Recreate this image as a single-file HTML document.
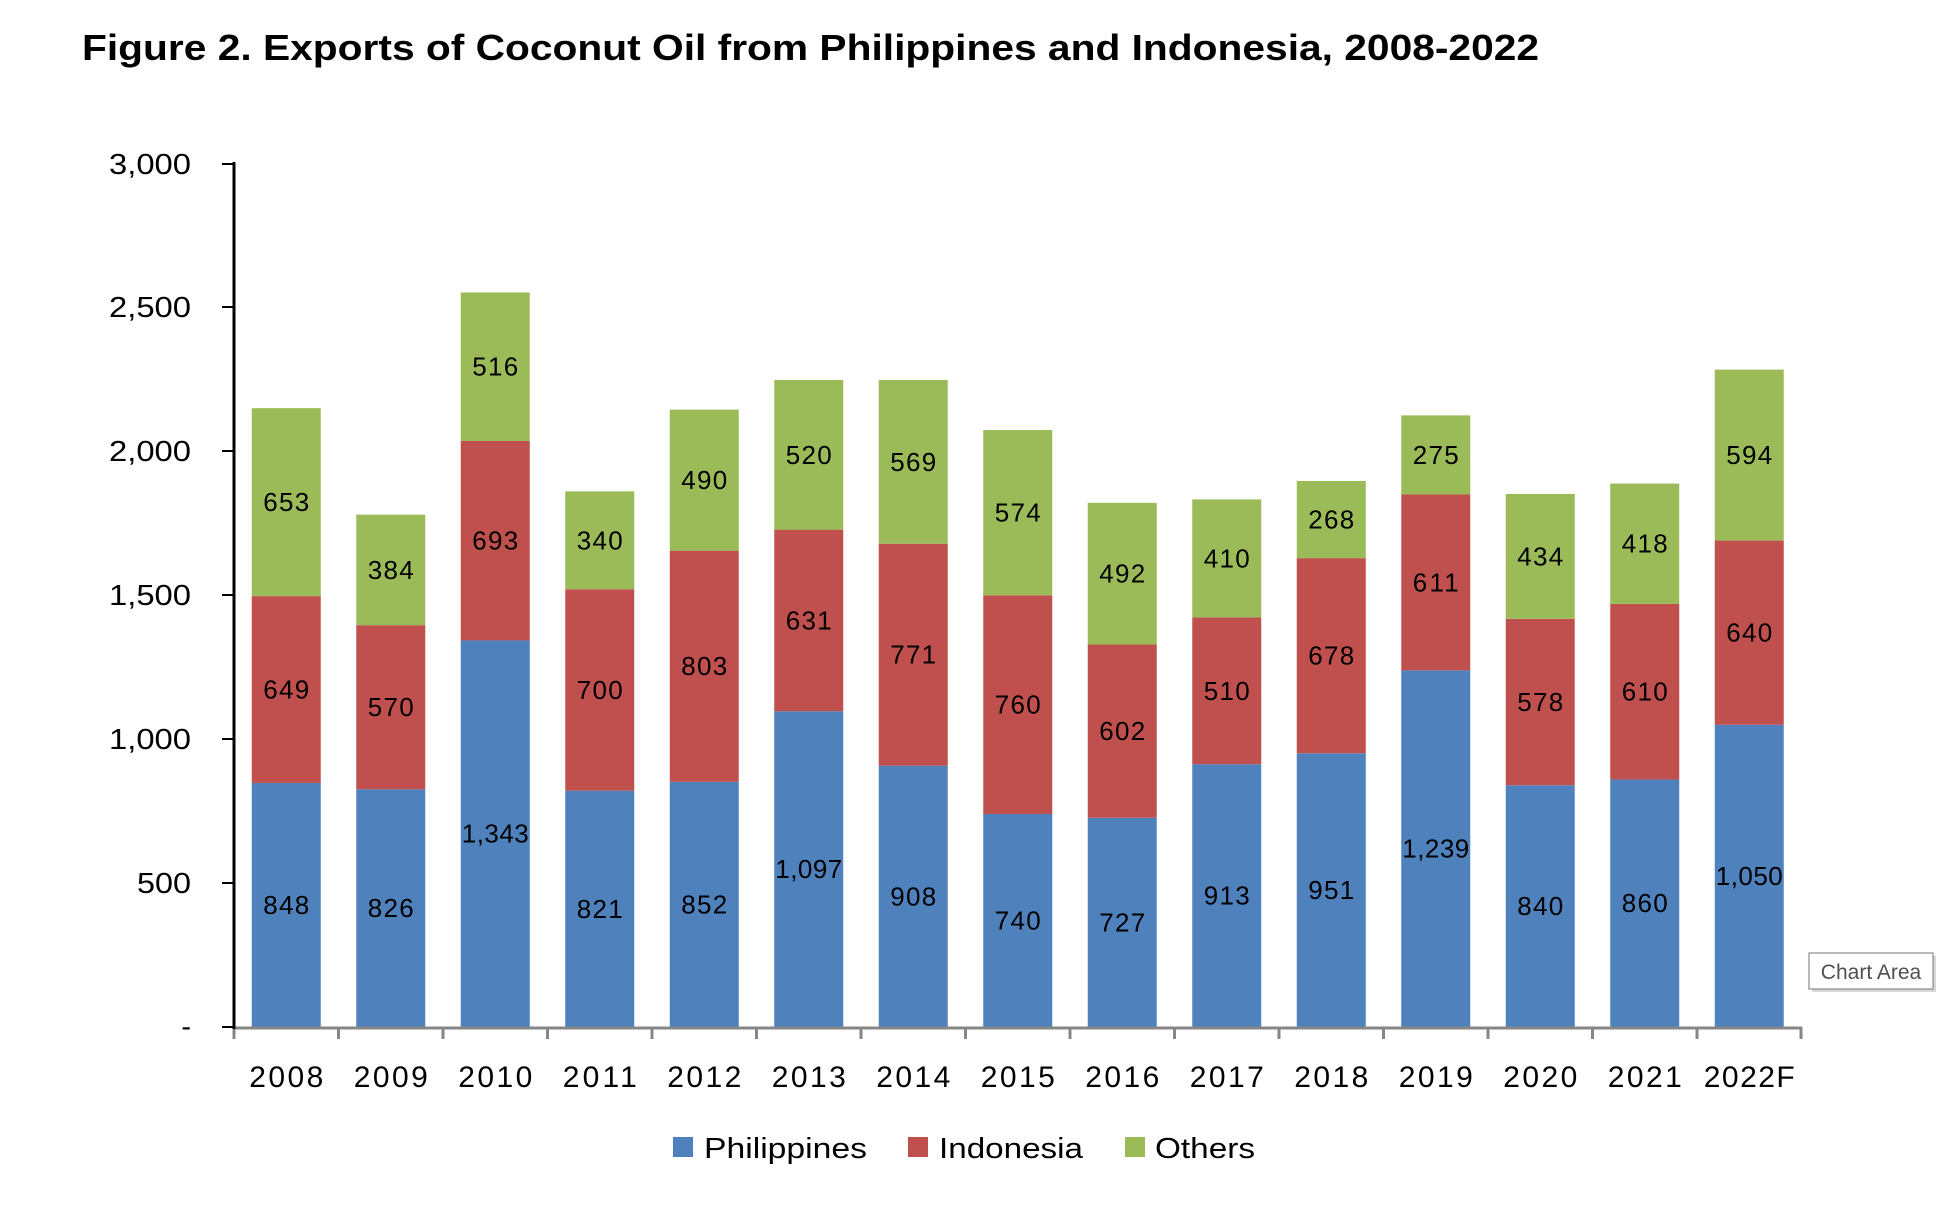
<!DOCTYPE html>
<html><head><meta charset="utf-8"><style>
html,body{margin:0;padding:0;background:#fff;}
svg{display:block;font-family:"Liberation Sans",sans-serif;}
</style></head><body>
<svg width="1955" height="1220" viewBox="0 0 1955 1220" xmlns="http://www.w3.org/2000/svg">
<text x="82" y="60" font-size="36" font-weight="bold" textLength="1457" lengthAdjust="spacingAndGlyphs">Figure 2. Exports of Coconut Oil from Philippines and Indonesia, 2008-2022</text>

<g font-size="29" text-anchor="end" fill="#000" lengthAdjust="spacingAndGlyphs">
<text x="191" y="1036">-</text>
<text x="191" y="893" textLength="54" lengthAdjust="spacingAndGlyphs">500</text>
<text x="191" y="749" textLength="82" lengthAdjust="spacingAndGlyphs">1,000</text>
<text x="191" y="605" textLength="82" lengthAdjust="spacingAndGlyphs">1,500</text>
<text x="191" y="461" textLength="82" lengthAdjust="spacingAndGlyphs">2,000</text>
<text x="191" y="317" textLength="82" lengthAdjust="spacingAndGlyphs">2,500</text>
<text x="191" y="174" textLength="82" lengthAdjust="spacingAndGlyphs">3,000</text>
</g>
<g stroke="#000" stroke-width="2">
<line x1="222" y1="1027" x2="234" y2="1027"/><line x1="222" y1="883" x2="234" y2="883"/><line x1="222" y1="739" x2="234" y2="739"/><line x1="222" y1="595" x2="234" y2="595"/><line x1="222" y1="451" x2="234" y2="451"/><line x1="222" y1="307" x2="234" y2="307"/><line x1="222" y1="164" x2="234" y2="164"/>
</g>

<g transform="translate(0,1027) scale(1,-0.28783)">
<g fill="#4F81BD">
<rect x="251.75" y="0" width="69" height="848"/><rect x="356.25" y="0" width="69" height="826"/><rect x="460.75" y="0" width="69" height="1343"/><rect x="565.25" y="0" width="69" height="821"/><rect x="669.75" y="0" width="69" height="852"/><rect x="774.25" y="0" width="69" height="1097"/><rect x="878.75" y="0" width="69" height="908"/><rect x="983.25" y="0" width="69" height="740"/><rect x="1087.75" y="0" width="69" height="727"/><rect x="1192.25" y="0" width="69" height="913"/><rect x="1296.75" y="0" width="69" height="951"/><rect x="1401.25" y="0" width="69" height="1239"/><rect x="1505.75" y="0" width="69" height="840"/><rect x="1610.25" y="0" width="69" height="860"/><rect x="1714.75" y="0" width="69" height="1050"/>
</g>
<g fill="#C0504D">
<rect x="251.75" y="848" width="69" height="649"/><rect x="356.25" y="826" width="69" height="570"/><rect x="460.75" y="1343" width="69" height="693"/><rect x="565.25" y="821" width="69" height="700"/><rect x="669.75" y="852" width="69" height="803"/><rect x="774.25" y="1097" width="69" height="631"/><rect x="878.75" y="908" width="69" height="771"/><rect x="983.25" y="740" width="69" height="760"/><rect x="1087.75" y="727" width="69" height="602"/><rect x="1192.25" y="913" width="69" height="510"/><rect x="1296.75" y="951" width="69" height="678"/><rect x="1401.25" y="1239" width="69" height="611"/><rect x="1505.75" y="840" width="69" height="578"/><rect x="1610.25" y="860" width="69" height="610"/><rect x="1714.75" y="1050" width="69" height="640"/>
</g>
<g fill="#9BBB59">
<rect x="251.75" y="1497" width="69" height="653"/><rect x="356.25" y="1396" width="69" height="384"/><rect x="460.75" y="2036" width="69" height="516"/><rect x="565.25" y="1521" width="69" height="340"/><rect x="669.75" y="1655" width="69" height="490"/><rect x="774.25" y="1728" width="69" height="520"/><rect x="878.75" y="1679" width="69" height="569"/><rect x="983.25" y="1500" width="69" height="574"/><rect x="1087.75" y="1329" width="69" height="492"/><rect x="1192.25" y="1423" width="69" height="410"/><rect x="1296.75" y="1629" width="69" height="268"/><rect x="1401.25" y="1850" width="69" height="275"/><rect x="1505.75" y="1418" width="69" height="434"/><rect x="1610.25" y="1470" width="69" height="418"/><rect x="1714.75" y="1690" width="69" height="594"/>
</g>
<g font-size="26" text-anchor="middle" fill="#000">
<g transform="translate(286.25,424) scale(1,-3.4743)"><text y="9" textLength="46">848</text></g>
<g transform="translate(286.25,1172.5) scale(1,-3.4743)"><text y="9" textLength="46">649</text></g>
<g transform="translate(286.25,1823.5) scale(1,-3.4743)"><text y="9" textLength="46">653</text></g>
<g transform="translate(390.75,413) scale(1,-3.4743)"><text y="9" textLength="46">826</text></g>
<g transform="translate(390.75,1111) scale(1,-3.4743)"><text y="9" textLength="46">570</text></g>
<g transform="translate(390.75,1588) scale(1,-3.4743)"><text y="9" textLength="46">384</text></g>
<g transform="translate(495.25,671.5) scale(1,-3.4743)"><text y="9" textLength="67">1,343</text></g>
<g transform="translate(495.25,1689.5) scale(1,-3.4743)"><text y="9" textLength="46">693</text></g>
<g transform="translate(495.25,2294) scale(1,-3.4743)"><text y="9" textLength="46">516</text></g>
<g transform="translate(599.75,410.5) scale(1,-3.4743)"><text y="9" textLength="46">821</text></g>
<g transform="translate(599.75,1171) scale(1,-3.4743)"><text y="9" textLength="46">700</text></g>
<g transform="translate(599.75,1691) scale(1,-3.4743)"><text y="9" textLength="46">340</text></g>
<g transform="translate(704.25,426) scale(1,-3.4743)"><text y="9" textLength="46">852</text></g>
<g transform="translate(704.25,1253.5) scale(1,-3.4743)"><text y="9" textLength="46">803</text></g>
<g transform="translate(704.25,1900) scale(1,-3.4743)"><text y="9" textLength="46">490</text></g>
<g transform="translate(808.75,548.5) scale(1,-3.4743)"><text y="9" textLength="67">1,097</text></g>
<g transform="translate(808.75,1412.5) scale(1,-3.4743)"><text y="9" textLength="46">631</text></g>
<g transform="translate(808.75,1988) scale(1,-3.4743)"><text y="9" textLength="46">520</text></g>
<g transform="translate(913.25,454) scale(1,-3.4743)"><text y="9" textLength="46">908</text></g>
<g transform="translate(913.25,1293.5) scale(1,-3.4743)"><text y="9" textLength="46">771</text></g>
<g transform="translate(913.25,1963.5) scale(1,-3.4743)"><text y="9" textLength="46">569</text></g>
<g transform="translate(1017.75,370) scale(1,-3.4743)"><text y="9" textLength="46">740</text></g>
<g transform="translate(1017.75,1120) scale(1,-3.4743)"><text y="9" textLength="46">760</text></g>
<g transform="translate(1017.75,1787) scale(1,-3.4743)"><text y="9" textLength="46">574</text></g>
<g transform="translate(1122.25,363.5) scale(1,-3.4743)"><text y="9" textLength="46">727</text></g>
<g transform="translate(1122.25,1028) scale(1,-3.4743)"><text y="9" textLength="46">602</text></g>
<g transform="translate(1122.25,1575) scale(1,-3.4743)"><text y="9" textLength="46">492</text></g>
<g transform="translate(1226.75,456.5) scale(1,-3.4743)"><text y="9" textLength="46">913</text></g>
<g transform="translate(1226.75,1168) scale(1,-3.4743)"><text y="9" textLength="46">510</text></g>
<g transform="translate(1226.75,1628) scale(1,-3.4743)"><text y="9" textLength="46">410</text></g>
<g transform="translate(1331.25,475.5) scale(1,-3.4743)"><text y="9" textLength="46">951</text></g>
<g transform="translate(1331.25,1290) scale(1,-3.4743)"><text y="9" textLength="46">678</text></g>
<g transform="translate(1331.25,1763) scale(1,-3.4743)"><text y="9" textLength="46">268</text></g>
<g transform="translate(1435.75,619.5) scale(1,-3.4743)"><text y="9" textLength="67">1,239</text></g>
<g transform="translate(1435.75,1544.5) scale(1,-3.4743)"><text y="9" textLength="46">611</text></g>
<g transform="translate(1435.75,1987.5) scale(1,-3.4743)"><text y="9" textLength="46">275</text></g>
<g transform="translate(1540.25,420) scale(1,-3.4743)"><text y="9" textLength="46">840</text></g>
<g transform="translate(1540.25,1129) scale(1,-3.4743)"><text y="9" textLength="46">578</text></g>
<g transform="translate(1540.25,1635) scale(1,-3.4743)"><text y="9" textLength="46">434</text></g>
<g transform="translate(1644.75,430) scale(1,-3.4743)"><text y="9" textLength="46">860</text></g>
<g transform="translate(1644.75,1165) scale(1,-3.4743)"><text y="9" textLength="46">610</text></g>
<g transform="translate(1644.75,1679) scale(1,-3.4743)"><text y="9" textLength="46">418</text></g>
<g transform="translate(1749.25,525) scale(1,-3.4743)"><text y="9" textLength="67">1,050</text></g>
<g transform="translate(1749.25,1370) scale(1,-3.4743)"><text y="9" textLength="46">640</text></g>
<g transform="translate(1749.25,1987) scale(1,-3.4743)"><text y="9" textLength="46">594</text></g>
</g>
</g>

<g stroke="#868686" stroke-width="3">
<line x1="234" y1="1028" x2="1802" y2="1028"/>
<line x1="234" y1="1027" x2="234" y2="1039"/><line x1="338.5" y1="1027" x2="338.5" y2="1039"/><line x1="443" y1="1027" x2="443" y2="1039"/><line x1="547.5" y1="1027" x2="547.5" y2="1039"/><line x1="652" y1="1027" x2="652" y2="1039"/><line x1="756.5" y1="1027" x2="756.5" y2="1039"/><line x1="861" y1="1027" x2="861" y2="1039"/><line x1="965.5" y1="1027" x2="965.5" y2="1039"/><line x1="1070" y1="1027" x2="1070" y2="1039"/><line x1="1174.5" y1="1027" x2="1174.5" y2="1039"/><line x1="1279" y1="1027" x2="1279" y2="1039"/><line x1="1383.5" y1="1027" x2="1383.5" y2="1039"/><line x1="1488" y1="1027" x2="1488" y2="1039"/><line x1="1592.5" y1="1027" x2="1592.5" y2="1039"/><line x1="1697" y1="1027" x2="1697" y2="1039"/><line x1="1801" y1="1027" x2="1801" y2="1039"/>
</g>
<line x1="234" y1="162" x2="234" y2="1029" stroke="#000" stroke-width="3"/>

<g font-size="30" text-anchor="middle" fill="#000">
<text x="286.25" y="1087" textLength="74">2008</text><text x="390.75" y="1087" textLength="74">2009</text><text x="495.25" y="1087" textLength="74">2010</text><text x="599.75" y="1087" textLength="74">2011</text><text x="704.25" y="1087" textLength="74">2012</text><text x="808.75" y="1087" textLength="74">2013</text><text x="913.25" y="1087" textLength="74">2014</text><text x="1017.75" y="1087" textLength="74">2015</text><text x="1122.25" y="1087" textLength="74">2016</text><text x="1226.75" y="1087" textLength="74">2017</text><text x="1331.25" y="1087" textLength="74">2018</text><text x="1435.75" y="1087" textLength="74">2019</text><text x="1540.25" y="1087" textLength="74">2020</text><text x="1644.75" y="1087" textLength="74">2021</text><text x="1749.25" y="1087" textLength="91">2022F</text>
</g>

<rect x="673" y="1137" width="20" height="20" fill="#4F81BD"/>
<text x="704" y="1158" font-size="29" textLength="163" lengthAdjust="spacingAndGlyphs">Philippines</text>
<rect x="908" y="1137" width="20" height="20" fill="#C0504D"/>
<text x="939" y="1158" font-size="29" textLength="144" lengthAdjust="spacingAndGlyphs">Indonesia</text>
<rect x="1125" y="1137" width="20" height="20" fill="#9BBB59"/>
<text x="1155" y="1158" font-size="29" textLength="100" lengthAdjust="spacingAndGlyphs">Others</text>

<rect x="1812" y="956" width="124" height="36" fill="#d8d8d8"/>
<rect x="1809" y="953" width="124" height="36" fill="#fff" stroke="#767676" stroke-width="1"/>
<text x="1871" y="979" font-size="21" fill="#505050" text-anchor="middle">Chart Area</text>
</svg>
</body></html>
